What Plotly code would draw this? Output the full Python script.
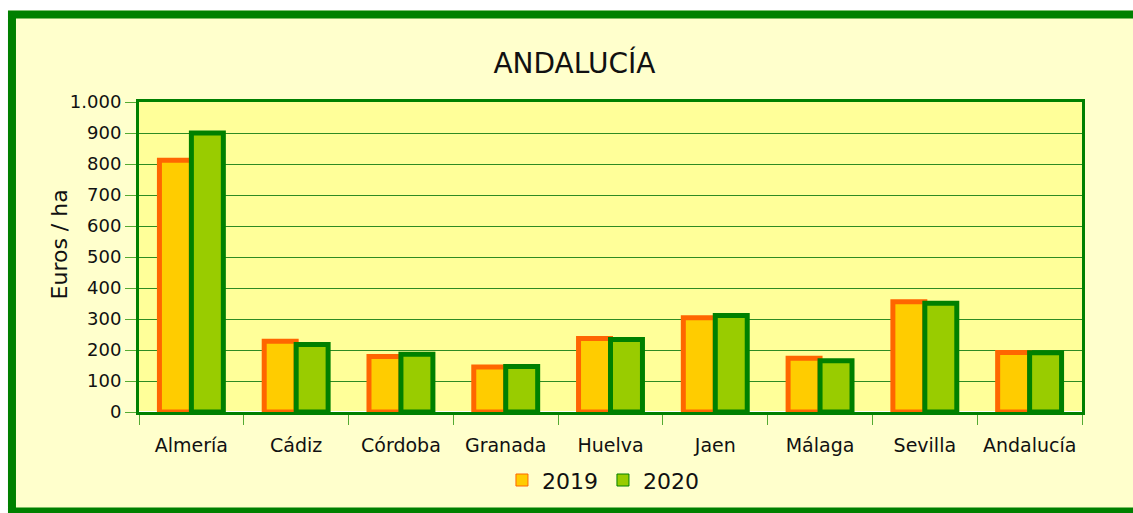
import plotly.graph_objects as go

provincias = ["Almería", "Cádiz", "Córdoba", "Granada", "Huelva", "Jaen", "Málaga", "Sevilla", "Andalucía"]
valores_2019 = [812, 228, 179, 145, 237, 304, 173, 356, 192]
valores_2020 = [900, 218, 186, 147, 234, 311, 165, 351, 191]

verde = "#008000"
fuente = "DejaVu Sans"

fig = go.Figure()
# barras (sin leyenda, el borde grueso queda feo en la leyenda)
fig.add_trace(go.Bar(
    x=provincias, y=valores_2019, name="2019", offsetgroup="a", showlegend=False,
    marker=dict(color="#FFCC00", line=dict(color="#FF6600", width=5)),
))
fig.add_trace(go.Bar(
    x=provincias, y=valores_2020, name="2020", offsetgroup="b", showlegend=False,
    marker=dict(color="#99CC00", line=dict(color=verde, width=5)),
))
# entradas de leyenda con borde fino
fig.add_trace(go.Bar(
    x=[provincias[0]], y=[None], name="2019", offsetgroup="a",
    marker=dict(color="#FFCC00", line=dict(color="#FF6600", width=1)),
))
fig.add_trace(go.Bar(
    x=[provincias[0]], y=[None], name="2020", offsetgroup="b",
    marker=dict(color="#99CC00", line=dict(color=verde, width=1)),
))

# Marco exterior y franjas blancas
fig.add_shape(type="rect", xref="paper", yref="paper",
              x0=-0.16, x1=1.1, y0=1.295, y1=1.35,
              fillcolor="white", line_width=0, layer="below")
fig.add_shape(type="rect", xref="paper", yref="paper",
              x0=-0.16, x1=-0.1389, y0=-0.4, y1=1.35,
              fillcolor="white", line_width=0, layer="below")
fig.add_shape(type="rect", xref="paper", yref="paper",
              x0=-0.1347, x1=1.09, y0=-0.321, y1=1.282,
              line=dict(color=verde, width=8), layer="above")

# título del eje Y como anotación (queda algo por encima del centro)
fig.add_annotation(text="Euros / ha", xref="paper", yref="paper",
                   x=-0.0997, y=0.542, textangle=-90, showarrow=False,
                   font=dict(size=22))

fig.update_layout(
    width=1133, height=513,
    margin=dict(l=139, r=51, t=102, b=99),
    paper_bgcolor="#FFFFCC",
    plot_bgcolor="#FFFF99",
    separators=",.",
    barmode="group",
    bargap=0.39,
    bargroupgap=0,
    font=dict(family=fuente, size=18, color="#111111"),
    title=dict(text="ANDALUCÍA", x=0.507, xanchor="center", y=0.877, yanchor="middle",
               font=dict(family=fuente, size=28, color="#111111")),
    legend=dict(orientation="h", x=0.492, xanchor="center", y=-0.22, yanchor="middle",
                font=dict(size=22), bgcolor="rgba(0,0,0,0)", itemwidth=30,
                itemclick=False, itemdoubleclick=False),
)
fig.update_xaxes(
    showline=True, linecolor=verde, linewidth=3, mirror=True,
    ticks="outside", tickson="boundaries", ticklen=10, tickcolor="#55AA33",
    ticklabelstandoff=14, tickfont=dict(size=19),
    showgrid=False, automargin=False,
)
fig.update_yaxes(
    range=[0, 1000], dtick=100, tickformat=",d",
    showline=True, linecolor=verde, linewidth=3, mirror=True,
    ticks="outside", ticklen=11, tickcolor="#55AA33",
    showgrid=True, gridcolor="#2E8B22", gridwidth=1, automargin=False,
)

fig.write_html("out.html", config={"displayModeBar": False},
               post_script="document.body.style.margin='0';")
